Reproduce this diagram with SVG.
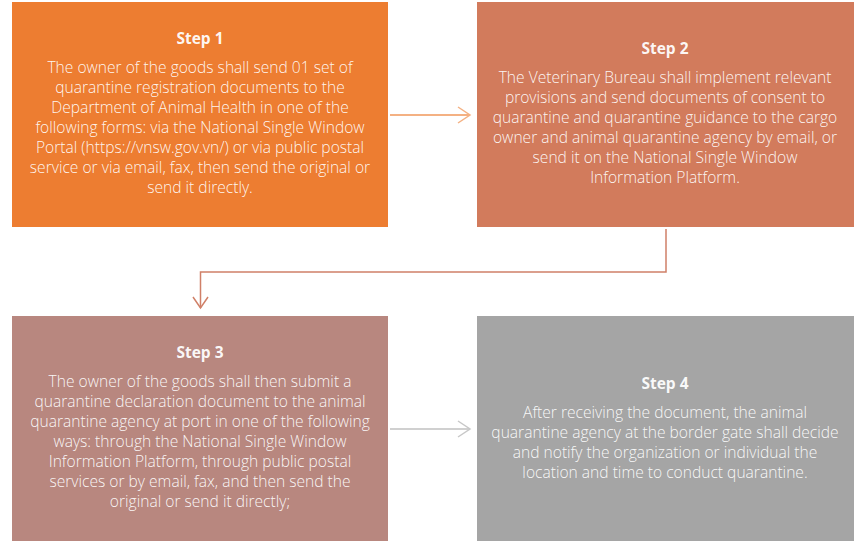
<svg xmlns="http://www.w3.org/2000/svg" width="865" height="543" viewBox="0 0 865 543">
<style>
.t{font-family:"Open Sans","Liberation Sans",Arial,sans-serif;font-size:15.5px;font-weight:700;fill:#ffffff;fill-opacity:0.95;text-anchor:middle}
.b{font-family:"Open Sans","Liberation Sans",Arial,sans-serif;font-size:15.6px;font-weight:300;fill:#ffffff;fill-opacity:0.93;text-anchor:middle}
</style>
<rect width="865" height="543" fill="#ffffff"/>
<g id="step1">
<rect x="12" y="2" width="376" height="225" fill="#ED7D31"/>
<text class="t" x="200" y="44">Step 1</text>
<text class="b" x="200" y="73">The owner of the goods shall send 01 set of</text>
<text class="b" x="200" y="93">quarantine registration documents to the</text>
<text class="b" x="200" y="113">Department of Animal Health in one of the</text>
<text class="b" x="200" y="133">following forms: via the National Single Window</text>
<text class="b" x="200" y="153">Portal (https://vnsw.gov.vn/) or via public postal</text>
<text class="b" x="200" y="173">service or via email, fax, then send the original or</text>
<text class="b" x="200" y="193">send it directly.</text>
</g>
<g id="step2">
<rect x="477" y="2" width="377" height="225" fill="#D27B5C"/>
<text class="t" x="665" y="54">Step 2</text>
<text class="b" x="665" y="83">The Veterinary Bureau shall implement relevant</text>
<text class="b" x="665" y="103">provisions and send documents of consent to</text>
<text class="b" x="665" y="123">quarantine and quarantine guidance to the cargo</text>
<text class="b" x="665" y="143">owner and animal quarantine agency by email, or</text>
<text class="b" x="665" y="163">send it on the National Single Window</text>
<text class="b" x="665" y="183">Information Platform.</text>
</g>
<g id="step3">
<rect x="12" y="316" width="376" height="225" fill="#B8877F"/>
<text class="t" x="200" y="358">Step 3</text>
<text class="b" x="200" y="387">The owner of the goods shall then submit a</text>
<text class="b" x="200" y="407">quarantine declaration document to the animal</text>
<text class="b" x="200" y="427">quarantine agency at port in one of the following</text>
<text class="b" x="200" y="447">ways: through the National Single Window</text>
<text class="b" x="200" y="467">Information Platform, through public postal</text>
<text class="b" x="200" y="487">services or by email, fax, and then send the</text>
<text class="b" x="200" y="507">original or send it directly;</text>
</g>
<g id="step4">
<rect x="477" y="316" width="377" height="225" fill="#A5A5A5"/>
<text class="t" x="665" y="389">Step 4</text>
<text class="b" x="665" y="418">After receiving the document, the animal</text>
<text class="b" x="665" y="438">quarantine agency at the border gate shall decide</text>
<text class="b" x="665" y="458">and notify the organization or individual the</text>
<text class="b" x="665" y="478">location and time to conduct quarantine.</text>
</g>
<g id="connectors" fill="none">
<path d="M390 115 H470" stroke="#F4B183" stroke-width="2"/>
<path d="M458 107 L470 115 L458 123" stroke="#F4B183" stroke-width="1.5"/>
<path d="M666 229 V272 H200.5 V308" stroke="#D08068" stroke-width="1.5"/>
<path d="M193 297 L200.5 308 L208 297" stroke="#D08068" stroke-width="1.5"/>
<path d="M390 429 H470" stroke="#D0D0D0" stroke-width="2"/>
<path d="M458 421 L470 429 L458 437" stroke="#C8C8C8" stroke-width="1.5"/>
</g>
</svg>
